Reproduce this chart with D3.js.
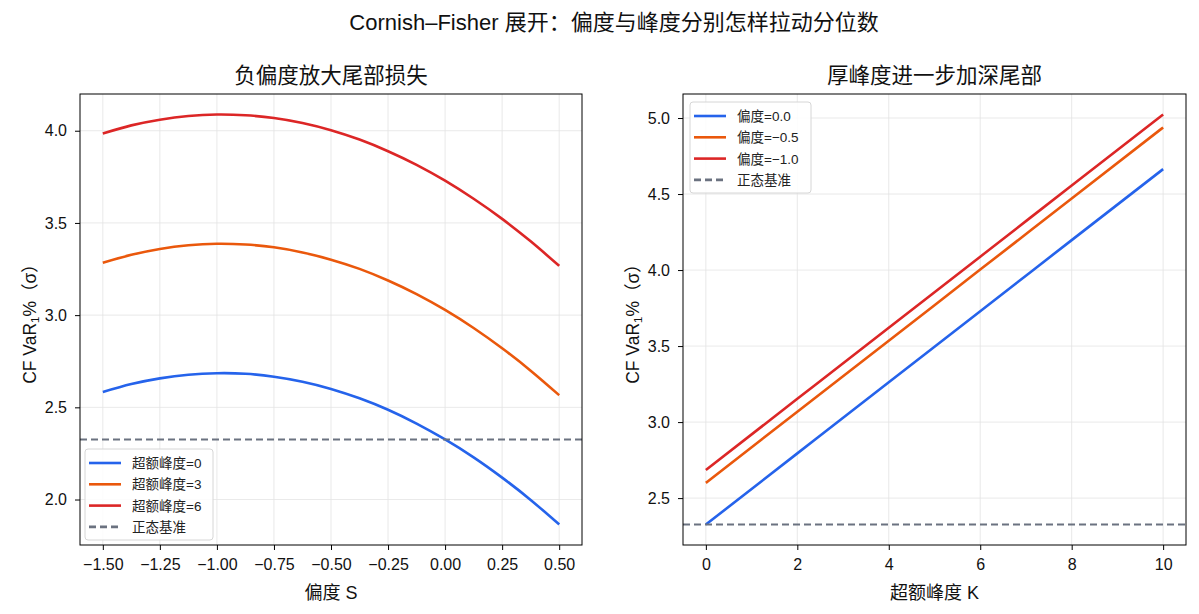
<!DOCTYPE html>
<html>
<head>
<meta charset="utf-8">
<script src="https://cdn.jsdelivr.net/npm/d3@7"></script>
<style>
  body { margin: 0; background: #fff; }
  svg { font-family: "Liberation Sans", "Noto Sans CJK SC", sans-serif; }
  .tick text { font-size: 16px; fill: #111; font-family: "Liberation Sans", "Noto Sans CJK SC", sans-serif; }
  .tick line { stroke: #000; }
  .domain { stroke: none; }
</style>
</head>
<body>
<svg id="fig" width="1199" height="614"></svg>
<script>
// left panel: VaR vs skew S, per excess kurtosis
const skewS = [-1.5, -1.375, -1.25, -1.125, -1.0, -0.875, -0.75, -0.625, -0.5, -0.375, -0.25, -0.125, 0, 0.125, 0.25, 0.375, 0.5];
const varK0 = [2.583, 2.626, 2.657, 2.677, 2.685, 2.682, 2.666, 2.639, 2.600, 2.549, 2.487, 2.412, 2.326, 2.229, 2.119, 1.998, 1.865];
const varK3 = [3.284, 3.327, 3.359, 3.379, 3.387, 3.383, 3.368, 3.340, 3.301, 3.251, 3.188, 3.114, 3.028, 2.930, 2.820, 2.699, 2.566];
const varK6 = [3.985, 4.029, 4.060, 4.080, 4.088, 4.084, 4.069, 4.042, 4.003, 3.952, 3.889, 3.815, 3.729, 3.631, 3.522, 3.400, 3.267];
const leftLabels = ["超额峰度=0", "超额峰度=3", "超额峰度=6"];

// right panel: VaR vs excess kurtosis K, per skew
const kurtK = [0, 2, 4, 6, 8, 10];
const varS0 = [2.326, 2.794, 3.262, 3.729, 4.197, 4.664];
const varSm05 = [2.600, 3.068, 3.535, 4.003, 4.470, 4.938];
const varSm10 = [2.685, 3.153, 3.621, 4.088, 4.556, 5.023];
const rightLabels = ["偏度=0.0", "偏度=−0.5", "偏度=−1.0"];

const normalBase = 2.326;
const colors = ["#2563eb", "#ea580c", "#dc2626"];
const baseColor = "#6b7280";

const svg = d3.select("#fig");

svg.append("text").attr("x", 614).attr("y", 30).attr("text-anchor", "middle")
  .attr("font-size", 22).attr("fill", "#111")
  .text("Cornish–Fisher 展开：偏度与峰度分别怎样拉动分位数");

function panel(opts) {
  const { left, width, top, height } = opts;
  const g = svg.append("g").attr("transform", `translate(${left},${top})`);
  const x = d3.scaleLinear().domain(opts.xDomain).range([0, width]);
  const y = d3.scaleLinear().domain(opts.yDomain).range([height, 0]);

  // grid
  g.append("g").selectAll("line").data(opts.xTicks).enter().append("line")
    .attr("x1", d => x(d)).attr("x2", d => x(d)).attr("y1", 0).attr("y2", height)
    .attr("stroke", "#e3e3e3").attr("stroke-width", 0.8);
  g.append("g").selectAll("line").data(opts.yTicks).enter().append("line")
    .attr("y1", d => y(d)).attr("y2", d => y(d)).attr("x1", 0).attr("x2", width)
    .attr("stroke", "#e3e3e3").attr("stroke-width", 0.8);

  const fmtMinus = f => v => f(v).replace("-", "−");
  g.append("g").attr("transform", `translate(0,${height})`)
    .call(d3.axisBottom(x).tickValues(opts.xTicks).tickSize(5).tickPadding(9).tickFormat(fmtMinus(opts.xFmt)));
  g.append("g")
    .call(d3.axisLeft(y).tickValues(opts.yTicks).tickSize(5).tickPadding(8).tickFormat(fmtMinus(d3.format(".1f"))));

  const line = d3.line().x(d => x(d[0])).y(d => y(d[1])).curve(d3.curveNatural);
  opts.series.forEach((s, i) => {
    g.append("path").datum(opts.xs.map((v, j) => [v, s[j]]))
      .attr("d", line).attr("fill", "none").attr("stroke", colors[i]).attr("stroke-width", 2.6);
  });

  g.append("line").attr("x1", 0).attr("x2", width)
    .attr("y1", y(normalBase)).attr("y2", y(normalBase))
    .attr("stroke", baseColor).attr("stroke-width", 2).attr("stroke-dasharray", "7,4");

  g.append("rect").attr("width", width).attr("height", height)
    .attr("fill", "none").attr("stroke", "#000").attr("stroke-width", 1);

  g.append("text").attr("x", width / 2).attr("y", -11).attr("text-anchor", "middle")
    .attr("font-size", 21.5).attr("fill", "#111").text(opts.title);
  g.append("text").attr("x", width / 2).attr("y", height + 54).attr("text-anchor", "middle")
    .attr("font-size", 18).attr("fill", "#111").text(opts.xLabel);

  const yl = g.append("text").attr("transform", `translate(-44,${height / 2}) rotate(-90)`)
    .attr("text-anchor", "middle").attr("font-size", 17.5).attr("fill", "#111");
  yl.append("tspan").text("CF VaR");
  yl.append("tspan").attr("font-size", 11.5).attr("dy", 3).text("1");
  yl.append("tspan").attr("dy", -3).text("%（σ）");

  // legend
  const lg = g.append("g").attr("transform", `translate(${opts.legend[0]},${opts.legend[1]})`);
  lg.append("rect").attr("width", opts.legendW).attr("height", 91).attr("rx", 3)
    .attr("fill", "#fff").attr("fill-opacity", 0.85).attr("stroke", "#d6d6d6");
  const items = opts.labels.map((t, i) => ({ t, c: colors[i], dash: null }))
    .concat([{ t: "正态基准", c: baseColor, dash: "7,4" }]);
  items.forEach((it, i) => {
    const yy = 14 + i * 21.3;
    lg.append("line").attr("x1", 4).attr("x2", 36).attr("y1", yy).attr("y2", yy)
      .attr("stroke", it.c).attr("stroke-width", 2.6).attr("stroke-dasharray", it.dash);
    lg.append("text").attr("x", 47).attr("y", yy + 5).attr("font-size", 13.5)
      .attr("fill", "#222").text(it.t);
  });
}

panel({
  left: 80, width: 502, top: 94, height: 451,
  xDomain: [-1.6, 0.6], yDomain: [1.7534, 4.1992],
  xTicks: [-1.5, -1.25, -1.0, -0.75, -0.5, -0.25, 0, 0.25, 0.5],
  yTicks: [2.0, 2.5, 3.0, 3.5, 4.0],
  xFmt: d3.format(".2f"),
  xs: skewS, series: [varK0, varK3, varK6], labels: leftLabels,
  title: "负偏度放大尾部损失", xLabel: "偏度 S",
  legend: [5, 355], legendW: 128
});

panel({
  left: 683, width: 503, top: 94, height: 451,
  xDomain: [-0.5, 10.5], yDomain: [2.1915, 5.158],
  xTicks: [0, 2, 4, 6, 8, 10],
  yTicks: [2.5, 3.0, 3.5, 4.0, 4.5, 5.0],
  xFmt: d3.format("d"),
  xs: kurtK, series: [varS0, varSm05, varSm10], labels: rightLabels,
  title: "厚峰度进一步加深尾部", xLabel: "超额峰度 K",
  legend: [7, 8], legendW: 121
});
</script>
</body>
</html>
